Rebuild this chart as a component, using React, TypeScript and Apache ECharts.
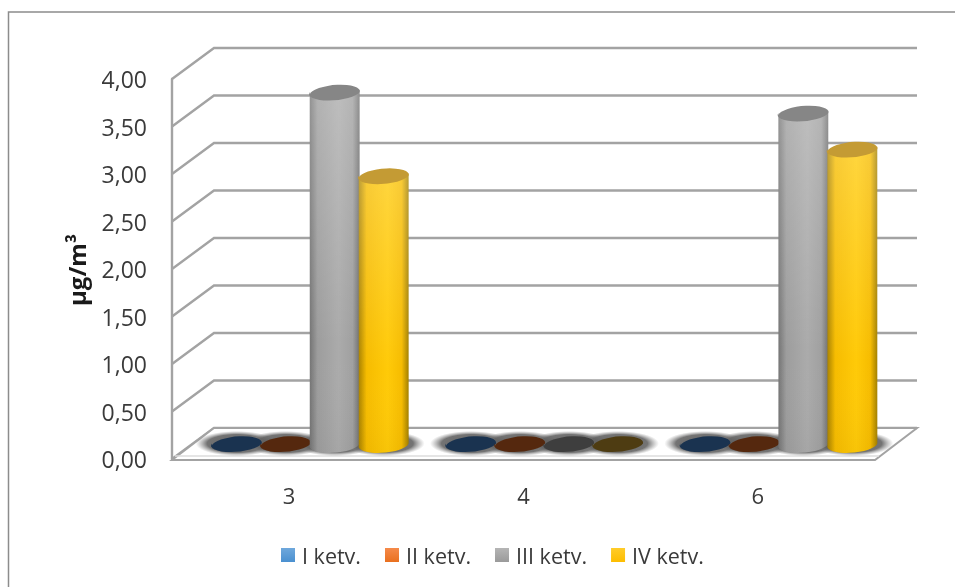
import React, { useEffect, useRef } from "react";
import * as echarts from "echarts";

const CATEGORIES = ["3", "4", "6"];
const QUARTER_I = [0, 0, 0];
const QUARTER_II = [0, 0, 0];
const QUARTER_III = [3.7, 0, 3.48];
const QUARTER_IV = [2.82, 0, 3.1];
const QUARTER_NAMES = ["I ketv.", "II ketv.", "III ketv.", "IV ketv."];
const GRID_VALUES = [0, 0.5, 1, 1.5, 2, 2.5, 3, 3.5, 4];

const LEGEND_LIGHT = ["#6fa8dc", "#f58a4a", "#b5b5b5", "#ffcc2a"];
const LEGEND_DARK = ["#4a90d0", "#e9701f", "#9a9a9a", "#fdbd00"];
const CAP_COLORS = ["#17324f", "#4f280e", "#868686", "#c49b34"];
const EMPTY_CAP_COLORS = ["#1a3350", "#55280e", "#3e3e3e", "#4e3c12"];
const BODY_STOPS = [
  ["#1f4e79", "#4a88c4", "#5b9bd5", "#4a88c4", "#1f4e79"],
  ["#843c0c", "#d66d28", "#ed7d31", "#d66d28", "#843c0c"],
  ["#747474", "#9d9d9d", "#ababab", "#a0a0a0", "#707070"],
  ["#a98200", "#f6bc00", "#ffca08", "#f6bc00", "#a38000"],
];

const DEPTH_X = 42;
const DEPTH_Y = -31;
const BAR_STEP = 49;
const RX = 25;
const RY = 8;
const TILT = 5;
const GRID_STROKE = "#a3a3a3";
const FONT = "'Open Sans', sans-serif";
const TEXT = "#3a3a3a";

function ellipsePath(cx: number, cy: number) {
  const t = (TILT * Math.PI) / 180;
  const dx = RX * Math.cos(t);
  const dy = RX * Math.sin(t);
  return `M${cx - dx} ${cy + dy}A${RX} ${RY} ${-TILT} 1 1 ${cx + dx} ${cy - dy}A${RX} ${RY} ${-TILT} 1 1 ${cx - dx} ${cy + dy}Z`;
}

function bodyPath(cx: number, topY: number, baseY: number) {
  const t = (TILT * Math.PI) / 180;
  const dx = RX * Math.cos(t);
  const dy = RX * Math.sin(t);
  return `M${cx - dx} ${topY + dy}L${cx - dx} ${baseY + dy}A${RX} ${RY} ${-TILT} 1 0 ${cx + dx} ${baseY - dy}L${cx + dx} ${topY - dy}Z`;
}

function cylinderRenderer(index: number) {
  return (_params: any, api: any) => {
    const cat = api.value(0);
    const val = api.value(1);
    const base = api.coord([cat, 0]);
    const top = api.coord([cat, val]);
    const cx = base[0] + DEPTH_X / 2 + (index - 1.5) * BAR_STEP;
    const baseY = base[1] + DEPTH_Y / 2;
    const topY = top[1] + DEPTH_Y / 2;
    const children: any[] = [];
    if (val > 0) {
      const [a, b, c, d, e] = BODY_STOPS[index];
      children.push({
        type: "path",
        shape: { pathData: bodyPath(cx, topY, baseY) },
        style: {
          fill: new echarts.graphic.LinearGradient(0, 0, 1, 0, [
            { offset: 0, color: a },
            { offset: 0.16, color: b },
            { offset: 0.58, color: c },
            { offset: 0.86, color: d },
            { offset: 1, color: e },
          ]),
        },
      });
      children.push({
        type: "path",
        shape: { pathData: bodyPath(cx, topY, baseY) },
        style: {
          fill: new echarts.graphic.LinearGradient(0, 0, 0, 1, [
            { offset: 0, color: "rgba(255,255,255,0.22)" },
            { offset: 0.7, color: "rgba(255,255,255,0)" },
            { offset: 1, color: "rgba(0,0,0,0.03)" },
          ]),
        },
      });
    }
    children.push({
      type: "path",
      shape: { pathData: ellipsePath(cx, topY) },
      style: { fill: val > 0 ? CAP_COLORS[index] : EMPTY_CAP_COLORS[index] },
    });
    return { type: "group", children };
  };
}

function wallRenderer(_params: any, api: any) {
  const p = api.coord([0, api.value(0)]);
  const size = api.size([1, 0]);
  const left = p[0] - size[0] / 2;
  const right = left + size[0] * CATEGORIES.length;
  return {
    type: "polyline",
    shape: {
      points: [
        [left, p[1]],
        [left + DEPTH_X, p[1] + DEPTH_Y],
        [right + DEPTH_X, p[1] + DEPTH_Y],
      ],
    },
    style: { stroke: GRID_STROKE, lineWidth: 2.4, fill: "none" },
  };
}

function floorRenderer(_params: any, api: any) {
  const p = api.coord([0, 0]);
  const size = api.size([1, 0]);
  const left = p[0] - size[0] / 2;
  const right = left + size[0] * CATEGORIES.length;
  return {
    type: "group",
    children: [
      {
        type: "polygon",
        shape: {
          points: [
            [left, p[1] + 1],
            [left + DEPTH_X, p[1] + DEPTH_Y],
            [right + DEPTH_X, p[1] + DEPTH_Y],
            [right, p[1] + 1],
          ],
        },
        style: { fill: "#ffffff", stroke: GRID_STROKE, lineWidth: 2 },
      },
      {
        type: "line",
        shape: { x1: left + 3, y1: p[1] - 3, x2: right + 4, y2: p[1] - 3 },
        style: { stroke: "#dddddd", lineWidth: 1.5 },
      },
    ],
  };
}

function haloRenderer(_params: any, api: any) {
  const p = api.coord([api.value(0), 0]);
  const cy = p[1] + DEPTH_Y / 2;
  return {
    type: "group",
    children: [0, 1, 2, 3].map((i) => ({
      type: "ellipse",
      shape: {
        cx: p[0] + DEPTH_X / 2 + (i - 1.5) * BAR_STEP,
        cy: cy,
        rx: RX + 16,
        ry: RY + 4.5,
      },
      style: {
        fill: new echarts.graphic.RadialGradient(0.5, 0.5, 0.5, [
          { offset: 0, color: "rgba(90,90,90,0.95)" },
          { offset: 0.72, color: "rgba(100,100,100,0.9)" },
          { offset: 1, color: "rgba(140,140,140,0)" },
        ]),
      },
    })),
  };
}

export default function App() {
  const ref = useRef<HTMLDivElement>(null);
  useEffect(() => {
    const chart = echarts.init(ref.current!, null, { renderer: "svg" });
    const seriesValues = [QUARTER_I, QUARTER_II, QUARTER_III, QUARTER_IV];
    chart.setOption({
      animation: false,
      backgroundColor: "#ffffff",
      textStyle: { fontFamily: FONT },
      grid: { left: 172, right: 80, top: 79, bottom: 128, containLabel: false },
      xAxis: {
        type: "category",
        data: CATEGORIES,
        axisLine: { show: false },
        axisTick: { show: false },
        axisLabel: { fontSize: 22, color: TEXT, fontFamily: FONT, margin: 25 },
      },
      yAxis: {
        type: "value",
        min: 0,
        max: 4,
        interval: 0.5,
        splitLine: { show: false },
        axisTick: { show: false },
        axisLine: { show: true, lineStyle: { color: GRID_STROKE, width: 2.4 } },
        axisLabel: {
          fontSize: 23,
          color: TEXT,
          fontFamily: FONT,
          margin: 25,
          formatter: (v: number) => v.toFixed(2).replace(".", ","),
        },
      },
      legend: {
        left: 276,
        top: 539,
        itemWidth: 14,
        itemHeight: 14,
        itemGap: 24,
        icon: "rect",
        selectedMode: false,
        textStyle: { fontSize: 21.5, color: TEXT, fontFamily: FONT, padding: [0, 0, 0, 2] },
        data: QUARTER_NAMES.map((name, i) => ({
          name,
          itemStyle: {
            color: new echarts.graphic.LinearGradient(0, 0, 0, 1, [
              { offset: 0, color: LEGEND_LIGHT[i] },
              { offset: 1, color: LEGEND_DARK[i] },
            ]),
          },
        })),
      },
      graphic: [
        {
          type: "polyline",
          silent: true,
          shape: {
            points: [
              [8.5, 587],
              [8.5, 12],
              [955, 12],
            ],
          },
          style: { stroke: "#8c8c8c", lineWidth: 1.5, fill: "none" },
        },
        {
          type: "text",
          x: 76,
          y: 270,
          rotation: Math.PI / 2,
          style: {
            text: "µg/m³",
            font: `bold 24px ${FONT}`,
            fill: "#1a1a1a",
            align: "center",
            verticalAlign: "middle",
          },
        },
      ],
      series: [
        {
          type: "custom",
          name: "walls",
          silent: true,
          coordinateSystem: "cartesian2d",
          clip: false,
          data: GRID_VALUES.map((v) => [v]),
          encode: { y: 0 },
          renderItem: wallRenderer,
          z: 1,
        },
        {
          type: "custom",
          name: "floor",
          silent: true,
          coordinateSystem: "cartesian2d",
          clip: false,
          data: [[0]],
          renderItem: floorRenderer,
          z: 2,
        },
        {
          type: "custom",
          name: "halo",
          silent: true,
          coordinateSystem: "cartesian2d",
          clip: false,
          data: CATEGORIES.map((_, i) => [i]),
          encode: { x: 0 },
          renderItem: haloRenderer,
          z: 3,
        },
        ...seriesValues.map((values, i) => ({
          type: "custom",
          name: QUARTER_NAMES[i],
          coordinateSystem: "cartesian2d",
          clip: false,
          silent: true,
          itemStyle: { color: LEGEND_DARK[i] },
          encode: { x: 0, y: 1 },
          data: values.map((v, c) => [c, v]),
          renderItem: cylinderRenderer(i),
          z: 4 + i,
        })),
      ],
    });
    return () => chart.dispose();
  }, []);
  return (
    <div
      ref={ref}
      style={{ position: "fixed", left: 0, top: 0, width: 955, height: 587, filter: "blur(0.4px)" }}
    />
  );
}
